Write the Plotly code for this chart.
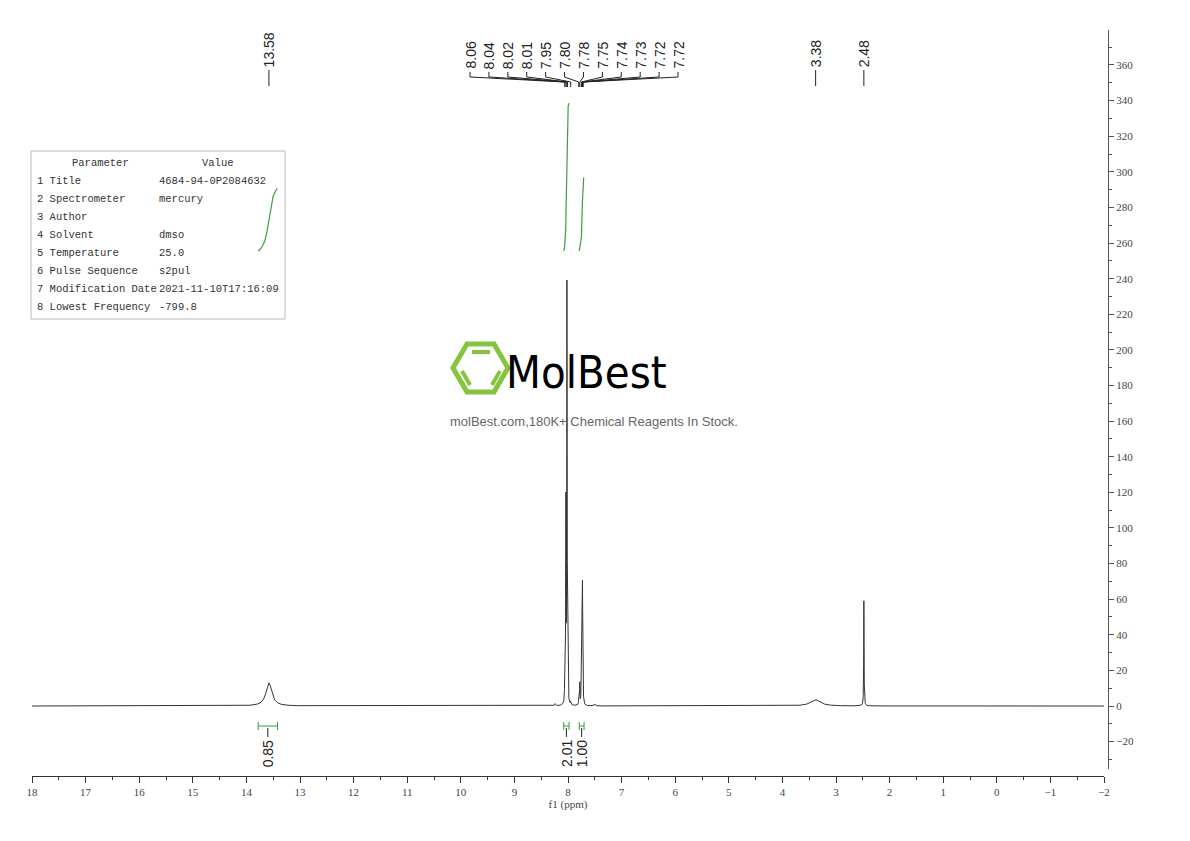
import numpy as np
import plotly.graph_objects as go

# ---------------- data ----------------
peak_ppm    = [13.58, 8.24, 8.06, 8.04, 8.02, 8.01, 7.95, 7.80, 7.78, 7.75, 7.74, 7.73, 7.72, 7.50, 3.38, 2.48]
peak_height = [13.0,  1.2,  16.0, 110., 230., 35.0, 1.5,  3.0,  12.0, 18.0, 58.0, 60.0, 14.0, 1.0,  3.5,  59.0]
peak_hwhm   = [0.065, 0.01, 0.004, 0.004, 0.004, 0.004, 0.005, 0.005, 0.004, 0.004, 0.004, 0.004, 0.004, 0.01, 0.11, 0.004]

multiplet_labels = ["8.06", "8.04", "8.02", "8.01", "7.95", "7.80", "7.78", "7.75", "7.74", "7.73", "7.72", "7.72"]
single_labels = ["13.58", "3.38", "2.48"]

integral_values = [0.85, 2.01, 1.00]
integral_start  = [13.78, 8.08, 7.79]
integral_end    = [13.42, 7.98, 7.70]

param_names  = ["1 Title", "2 Spectrometer", "3 Author", "4 Solvent", "5 Temperature",
                "6 Pulse Sequence", "7 Modification Date", "8 Lowest Frequency"]
param_values = ["4684-94-0P2084632", "mercury", "", "dmso", "25.0",
                "s2pul", "2021-11-10T17:16:09", "-799.8"]

# ---------------- layout geometry helpers ----------------
OFF = 8                       # page body margin of the html page
W, H = 1190 - OFF, 841 - OFF
PX0, PX1 = 32, 1108          # plot-area x extent in page pixels
PY0, PY1 = 776, 30           # plot-area y extent (bottom, top) in page pixels
L, T = PX0 - OFF, PY1 - OFF
R, B = W - (PX1 - OFF), H - (PY0 - OFF)
YR = [-35.38, 379.65]


def px(xp):
    return (xp - PX0) / (PX1 - PX0)


def py(yp):
    return (PY0 - yp) / (PY0 - PY1)


def ppm_of_px(xp):
    return 18 - (xp - 32) / 53.6


def val_of_py(yp):
    return (706 - yp) / 1.7806


# ---------------- spectrum ----------------
ppm = np.arange(18.0, -2.0005, -0.001)
intensity = np.zeros_like(ppm)
for c, h, w in zip(peak_ppm, peak_height, peak_hwhm):
    intensity += h / (1 + ((ppm - c) / w) ** 2)

GREEN = "#3d9c3d"
fig = go.Figure()
fig.add_trace(go.Scatter(x=ppm, y=intensity, mode="lines",
                         line=dict(color="#333333", width=1), hoverinfo="skip", showlegend=False))

# integral curves
unit = 41.3
base = val_of_py(251)
for v, s, e in zip(integral_values, integral_start, integral_end):
    m = (ppm <= s) & (ppm >= e)
    seg = intensity[m]
    cum = np.cumsum(seg)
    cum = cum / cum[-1] * v * unit + base
    fig.add_trace(go.Scatter(x=ppm[m], y=cum, mode="lines",
                             line=dict(color=GREEN, width=1.2), hoverinfo="skip", showlegend=False))

shapes = []
annotations = []
LABEL_FONT = dict(family="Liberation Sans, Arial, sans-serif", size=14, color="#222222")

# single peak labels
for lab in single_labels:
    c = float(lab)
    shapes.append(dict(type="line", xref="x", yref="y", x0=c, x1=c,
                       y0=val_of_py(86), y1=val_of_py(70), line=dict(color="#222", width=1)))
    annotations.append(dict(x=c, y=val_of_py(69), xref="x", yref="y", text=lab, textangle=-90,
                            showarrow=False, xanchor="center", yanchor="bottom", font=LABEL_FONT))

# multiplet labels with connectors
n = len(multiplet_labels)
for i, lab in enumerate(multiplet_labels):
    lx = ppm_of_px(470 + i * (678 - 470) / (n - 1))
    c = float(lab)
    shapes.append(dict(type="line", xref="x", yref="y", x0=lx, x1=lx,
                       y0=val_of_py(77), y1=val_of_py(72), line=dict(color="#222", width=1)))
    shapes.append(dict(type="line", xref="x", yref="y", x0=lx, x1=c,
                       y0=val_of_py(77), y1=val_of_py(82), line=dict(color="#222", width=1)))
    shapes.append(dict(type="line", xref="x", yref="y", x0=c, x1=c,
                       y0=val_of_py(82), y1=val_of_py(87), line=dict(color="#222", width=1)))
    annotations.append(dict(x=lx, y=val_of_py(71), xref="x", yref="y", text=lab, textangle=-90,
                            showarrow=False, xanchor="center", yanchor="bottom", font=LABEL_FONT))

# integration brackets and labels
yb = val_of_py(726)
for v, s, e in zip(integral_values, integral_start, integral_end):
    shapes.append(dict(type="line", xref="x", yref="y", x0=s, x1=e, y0=yb, y1=yb,
                       line=dict(color=GREEN, width=1)))
    for xe in (s, e):
        shapes.append(dict(type="line", xref="x", yref="y", x0=xe, x1=xe,
                           y0=val_of_py(722), y1=val_of_py(730), line=dict(color=GREEN, width=1)))
    cx = (s + e) / 2
    shapes.append(dict(type="line", xref="x", yref="y", x0=cx, x1=cx,
                       y0=val_of_py(728), y1=val_of_py(737), line=dict(color="#222", width=1)))
    annotations.append(dict(x=cx, y=val_of_py(738), xref="x", yref="y", text=f"{v:.2f}",
                            textangle=-90, showarrow=False, xanchor="center", yanchor="top",
                            font=LABEL_FONT))

# parameter table
shapes.append(dict(type="rect", xref="paper", yref="paper", x0=px(31), x1=px(285),
                   y0=py(319), y1=py(151), line=dict(color="#b8b8b8", width=1)))
TFONT = dict(family="Liberation Mono, DejaVu Sans Mono, monospace", size=10.5, color="#333333")
annotations.append(dict(x=px(100), y=py(163), xref="paper", yref="paper", text="Parameter",
                        showarrow=False, xanchor="center", yanchor="middle", font=TFONT))
annotations.append(dict(x=px(218), y=py(163), xref="paper", yref="paper", text="Value",
                        showarrow=False, xanchor="center", yanchor="middle", font=TFONT))
for i, (nme, val) in enumerate(zip(param_names, param_values)):
    yy = py(181 + 18 * i)
    annotations.append(dict(x=px(35), y=yy, xref="paper", yref="paper", text=nme,
                            showarrow=False, xanchor="left", yanchor="middle", font=TFONT))
    if val:
        annotations.append(dict(x=px(157), y=yy, xref="paper", yref="paper", text=val,
                                showarrow=False, xanchor="left", yanchor="middle", font=TFONT))

# logo (watermark)
LG = "#86c440"
hexv = [(453, 368), (467, 344), (494, 344), (508, 368), (494, 392), (467, 392)]
path = "M " + " L ".join(f"{px(a):.5f},{py(b):.5f}" for a, b in hexv) + " Z"
shapes.append(dict(type="path", xref="paper", yref="paper", path=path,
                   line=dict(color=LG, width=5)))
for (a0, b0, a1, b1) in [(472, 352, 490, 352), (462, 371, 470, 385), (500, 371, 492, 385)]:
    shapes.append(dict(type="line", xref="paper", yref="paper", x0=px(a0), y0=py(b0),
                       x1=px(a1), y1=py(b1), line=dict(color=LG, width=4)))
annotations.append(dict(x=px(586), y=py(372), xref="paper", yref="paper", text="MolBest",
                        showarrow=False, xanchor="center", yanchor="middle",
                        font=dict(family="DejaVu Sans Condensed, Liberation Sans, sans-serif",
                                  size=45, color="#000000")))
annotations.append(dict(x=px(594), y=py(421), xref="paper", yref="paper",
                        text="molBest.com,180K+ Chemical Reagents In Stock.",
                        showarrow=False, xanchor="center", yanchor="middle",
                        font=dict(family="Liberation Sans, Arial, sans-serif", size=13, color="#666666")))

AX_FONT = dict(family="Liberation Serif, DejaVu Serif, serif", size=11, color="#444444")

fig.update_layout(
    width=W, height=H,
    margin=dict(l=L, r=R, t=T, b=B),
    plot_bgcolor="white", paper_bgcolor="white",
    showlegend=False,
    shapes=shapes, annotations=annotations,
    xaxis=dict(range=[18, -2], domain=[0, (1104 - PX0) / (PX1 - PX0)], anchor="free", position=0,
               tickmode="linear", tick0=0, dtick=1,
               ticks="outside", ticklen=6, tickcolor="#333", showline=True, linecolor="#333",
               linewidth=1, showgrid=False, zeroline=False, tickfont=AX_FONT,
               minor=dict(dtick=0.5, ticklen=3, ticks="outside", tickcolor="#333", showgrid=False),
               title=dict(text="f1 (ppm)", font=AX_FONT, standoff=2)),
    yaxis=dict(range=YR, domain=[(PY0 - 769) / (PY0 - PY1), 1], side="right", anchor="free", position=1,
               tickmode="linear", tick0=0, dtick=20,
               ticks="outside", ticklen=5, tickcolor="#555", showline=True, linecolor="#555",
               linewidth=1, showgrid=False, zeroline=False, tickfont=AX_FONT,
               minor=dict(dtick=10, ticklen=3, ticks="outside", tickcolor="#555", showgrid=False)),
)

fig.write_html("out.html")
